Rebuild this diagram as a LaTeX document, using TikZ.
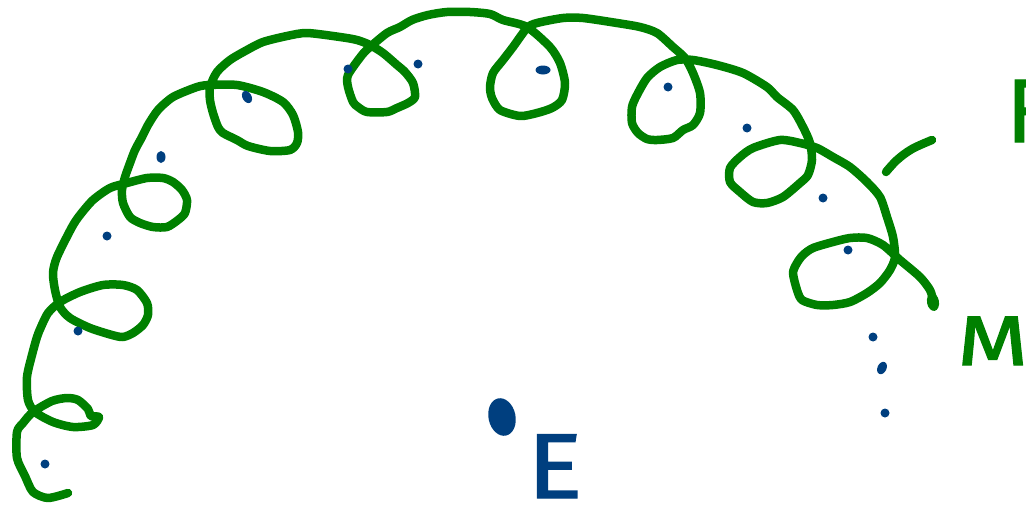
\documentclass[tikz,border=0pt]{standalone}
\usepackage{fontspec}
\newfontfamily\handfont{Fira Sans}[FakeBold=1.5]
\definecolor{pathgreen}{RGB}{0,128,0}
\definecolor{dotblue}{RGB}{0,63,127}
\begin{document}
\begin{tikzpicture}[x=1pt,y=-1pt,
  stroke/.style={line width=8.5pt,line cap=round,line join=round,draw=pathgreen},
  edot/.style={fill=dotblue,draw=none},
  lbl/.style={inner sep=0pt,anchor=base west,text depth=0pt}]
\useasboundingbox (0,0) rectangle (1026,506);
\clip (0,0) rectangle (1026,506);
% Moon path
\draw[stroke] plot[smooth,tension=0.45] coordinates {
(68,493)(48,498)(33,492)(25,476)(17,458)(17,432)(23,423)(33,412)(52,401)(67,398)(78,400)(88,409)(91,416)(99,417)(93,425)(73,427)(53,422)(35,412)
(28,400)(27,377)(32,355)(37,337)(41,327)(48,313)(60,302)(80,292)(103,285)(123,285)(137,290)(147,303)(148,315)(143,325)(133,333)(123,337)(112,335)(90,328)(70,318)(60,307)
(55,290)(53,273)(57,257)(72,227)(80,215)(93,200)(110,188)(127,183)(147,178)(163,178)(173,182)(182,190)(187,200)(185,213)(178,220)(167,227)(153,227)(140,223)(130,217)(123,203)
(122,190)(125,177)(130,163)(135,150)(142,137)(148,125)(158,110)(173,97)(197,87)(210,85)(237,85)(263,92)(283,102)(293,115)(298,132)(297,143)(290,150)(270,151)(248,146)(237,140)(223,133)(218,127)(213,113)
(210,100)(210,87)(217,72)(230,60)(247,50)(263,42)(287,36)(307,33)(340,37)(357,40)(370,45)(383,53)(397,65)(405,72)(413,83)(415,97)(408,103)(397,108)(387,112)(367,112)(358,107)(353,102)(348,87)(348,75)(362,55)
(370,47)(387,33)(400,27)(412,20)(428,15)(447,12)(470,12)(490,14)(503,20)(527,27)(550,47)(560,63)(565,83)(562,100)(552,108)(537,113)(520,116)(500,110)(492,98)(490,87)(493,73)(503,60)(513,47)(527,28)
(537,23)(563,18)(583,18)(617,23)(640,27)(657,33)(673,47)(685,58)(693,73)(700,93)(700,113)(693,125)(683,130)(673,138)(657,140)(647,139)(638,133)(632,123)(632,107)(637,95)(647,78)(660,67)(677,60)(693,60)
(717,65)(743,73)(767,87)(777,97)(793,110)(803,127)(810,143)(812,160)(808,175)(800,183)(783,197)(767,203)(753,202)(740,192)(730,182)(730,168)(740,157)(753,148)(780,140)(800,143)(817,148)(833,157)(850,167)
(867,182)(880,197)(887,217)(893,237)(895,257)(890,270)(880,283)(867,293)(850,302)(833,305)(817,305)(802,300)(797,290)(793,273)(797,263)(803,255)(813,248)(833,242)(850,238)(867,238)(883,245)(900,260)(920,277)(930,290)(933,300)};
\fill[pathgreen,rotate around={10:(933,302)}] (933,302) ellipse[x radius=6pt,y radius=9pt];
% bracket stroke
\draw[stroke] plot[smooth,tension=0.6] coordinates {(886,172)(897,160)(912,149)(932,140)};
% Earth positions
\foreach \px/\py in {45/464,78/331,107/236,418/64,668/87,747/128,823/198,848/250,873/337,885/413,348/69}
  \fill[edot] (\px,\py) circle[radius=4.5pt];
\fill[edot] (161,157) ellipse[x radius=4.5pt,y radius=6pt];
\fill[edot,rotate around={30:(247,97)}] (247,97) ellipse[x radius=4.5pt,y radius=6.5pt];
\fill[edot] (543,70) ellipse[x radius=7.5pt,y radius=4.5pt];
\fill[edot,rotate around={-25:(882,368)}] (882,368) ellipse[x radius=4.5pt,y radius=6.5pt];
% Earth
\fill[edot,rotate around={12:(502,417)}] (502,417) ellipse[x radius=13.5pt,y radius=19pt];
% labels
\node[lbl,text=dotblue,xscale=1.12,font=\handfont\fontsize{92}{92}\selectfont] (E) at (527,498) {E};
\node[lbl,text=pathgreen,xscale=1.3,font=\handfont\fontsize{70}{70}\selectfont] (M) at (957,365) {M};
\node[lbl,text=pathgreen,font=\handfont\fontsize{90}{90}\selectfont] (F) at (1006,142) {F};
\end{tikzpicture}
\end{document}
